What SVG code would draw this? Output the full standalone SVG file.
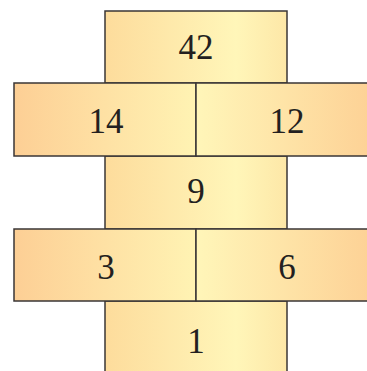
<svg xmlns="http://www.w3.org/2000/svg" width="367" height="371" viewBox="0 0 367 371">
<defs>
<linearGradient id="gv" x1="0" y1="0" x2="1" y2="0">
<stop offset="0" stop-color="#fddc9c"/>
<stop offset="0.72" stop-color="#fff6b9"/>
<stop offset="1" stop-color="#fde7a7"/>
</linearGradient>
<linearGradient id="gl" x1="0" y1="0" x2="1" y2="0">
<stop offset="0" stop-color="#fdcf95"/>
<stop offset="1" stop-color="#fff3b3"/>
</linearGradient>
<linearGradient id="gr" x1="0" y1="0" x2="1" y2="0">
<stop offset="0" stop-color="#fff6b9"/>
<stop offset="1" stop-color="#fdd094"/>
</linearGradient>
<style>
rect{stroke:#3a3636;stroke-width:1.5}
text{font-family:"Liberation Serif","DejaVu Serif",serif;font-size:35px;fill:#231f20;text-anchor:middle}
</style>
</defs>
<rect width="367" height="371" fill="#ffffff" style="stroke:none"/>
<g id="n42"><rect x="105" y="11" width="182" height="72" fill="url(#gv)"/><text x="196" y="59">42</text></g>
<g id="n9"><rect x="105" y="156" width="182" height="73" fill="url(#gv)"/><text x="196" y="203">9</text></g>
<g id="n1"><rect x="105" y="301" width="182" height="80" fill="url(#gv)"/><text x="196" y="353">1</text></g>
<g id="n14"><rect x="14" y="83" width="182" height="73" fill="url(#gl)"/><text x="106" y="133">14</text></g>
<g id="n12"><rect x="196" y="83" width="182" height="73" fill="url(#gr)"/><text x="287" y="133">12</text></g>
<g id="n3"><rect x="14" y="229" width="182" height="72" fill="url(#gl)"/><text x="106" y="279">3</text></g>
<g id="n6"><rect x="196" y="229" width="182" height="72" fill="url(#gr)"/><text x="287" y="279">6</text></g>
<g id="connectors"></g>
</svg>
